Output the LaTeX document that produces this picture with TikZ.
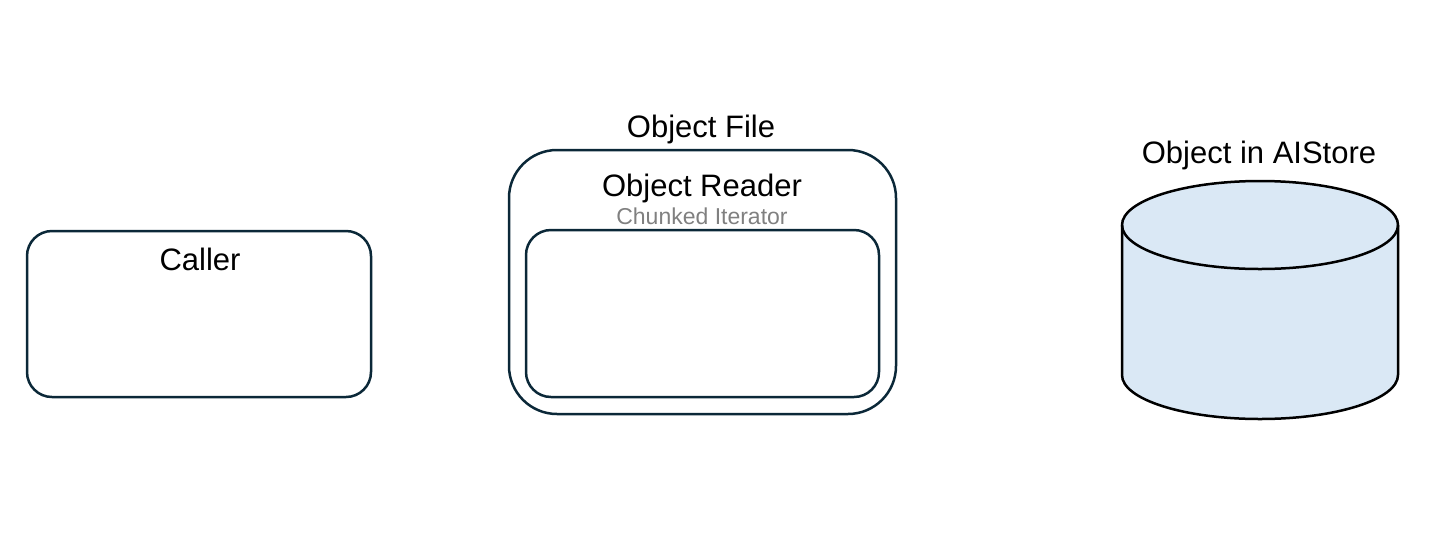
\documentclass[tikz,border=0pt]{standalone}
\usepackage{fontspec}
\setmainfont{Liberation Sans}
\definecolor{boxline}{HTML}{0B2838}
\definecolor{cylfill}{HTML}{DAE8F5}
\definecolor{subgray}{HTML}{808080}
\begin{document}
\begin{tikzpicture}[x=1pt,y=-1pt,
  roundbox/.style={draw=boxline, line width=2.5pt, rounded corners=#1},
  bigtext/.style={font=\fontsize{31}{37}\selectfont, text=black, inner sep=0pt, anchor=base},
  smalltext/.style={font=\fontsize{23}{27}\selectfont, text=subgray, inner sep=0pt, anchor=base}]
\useasboundingbox (0,0) rectangle (1436,558);
% Caller
\draw[roundbox=25pt] (27,231) rectangle (371,397);
\node[bigtext] (caller) at (200,270) {Caller};
% Object File outer box
\draw[roundbox=48pt] (509,150) rectangle (896,414);
\node[bigtext] (objfile) at (701,137) {Object File};
\node[bigtext] (objreader) at (702,196) {Object Reader};
\node[smalltext] (chunked) at (702,224) {Chunked Iterator};
% Inner box
\draw[roundbox=25pt] (526,230) rectangle (879,397);
% Cylinder
\filldraw[fill=cylfill, draw=black, line width=2.5pt]
  (1122,225) -- (1122,375) arc[start angle=180, end angle=0, x radius=138, y radius=44]
  -- (1398,225) arc[start angle=0, end angle=-180, x radius=138, y radius=44] -- cycle;
\draw[black, line width=2.5pt] (1122,225) arc[start angle=180, end angle=0, x radius=138, y radius=44];
\node[bigtext] (store) at (1259,163) {Object in AIStore};
\end{tikzpicture}
\end{document}
